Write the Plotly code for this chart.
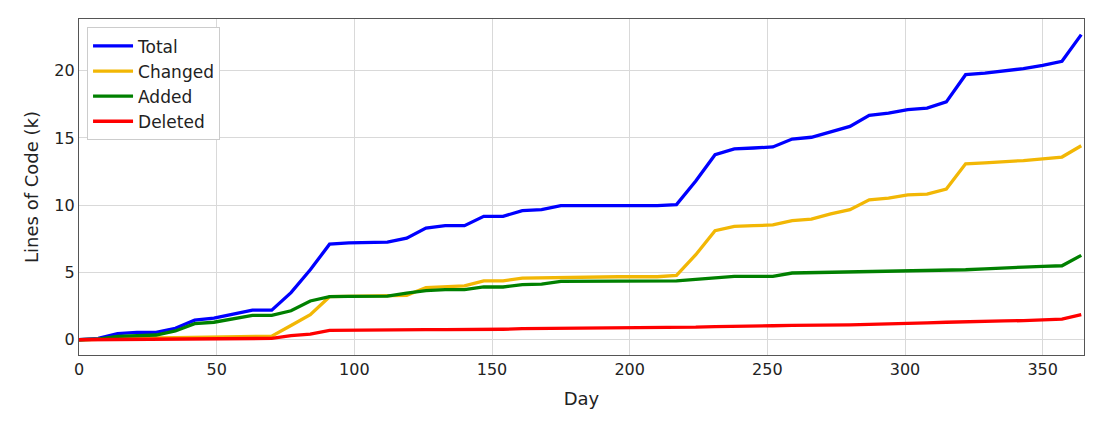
import plotly.graph_objects as go

days = list(range(0, 365, 7))

total = [0, 0.1, 0.45, 0.55, 0.55, 0.85, 1.45, 1.6, 1.9, 2.2, 2.2, 3.5, 5.2, 7.1,
         7.2, 7.25, 7.25, 7.55, 8.3, 8.48, 8.48, 9.17, 9.17, 9.6, 9.67, 9.97,
         9.97, 9.97, 9.97, 9.97, 9.97, 10.04, 11.8, 13.75, 14.18, 14.25, 14.33,
         14.92, 15.05, 15.45, 15.86, 16.68, 16.85, 17.1, 17.22, 17.68, 19.7,
         19.82, 20.0, 20.15, 20.4, 20.7, 22.68]
changed = [0, 0.05, 0.1, 0.12, 0.14, 0.16, 0.18, 0.2, 0.22, 0.24, 0.27, 1.06,
           1.86, 3.2, 3.22, 3.24, 3.24, 3.3, 3.88, 3.95, 4.0, 4.38, 4.38, 4.58,
           4.6, 4.68, 4.68, 4.68, 4.68, 4.68, 4.68, 4.78, 6.32, 8.1, 8.43, 8.48,
           8.53, 8.85, 8.97, 9.35, 9.67, 10.4, 10.53, 10.76, 10.83, 11.2, 13.08,
           13.15, 13.22, 13.32, 13.45, 13.58, 14.42]
added = [0, 0.05, 0.25, 0.3, 0.35, 0.65, 1.2, 1.3, 1.55, 1.81, 1.81, 2.15, 2.88,
         3.2, 3.22, 3.24, 3.24, 3.47, 3.65, 3.72, 3.72, 3.92, 3.92, 4.09, 4.14,
         4.34, 4.34, 4.34, 4.34, 4.34, 4.34, 4.38, 4.48, 4.6, 4.71, 4.71, 4.71,
         4.96, 4.98, 5.0, 5.02, 5.05, 5.06, 5.1, 5.12, 5.15, 5.2, 5.26, 5.35,
         5.4, 5.45, 5.5, 6.27]
deleted = [0, 0.01, 0.02, 0.03, 0.04, 0.05, 0.05, 0.06, 0.07, 0.08, 0.1, 0.3,
           0.42, 0.7, 0.72, 0.72, 0.72, 0.73, 0.75, 0.75, 0.75, 0.78, 0.78, 0.82,
           0.83, 0.85, 0.85, 0.85, 0.85, 0.85, 0.85, 0.87, 0.93, 0.98, 1.02, 1.03,
           1.04, 1.06, 1.06, 1.07, 1.1, 1.14, 1.16, 1.22, 1.25, 1.3, 1.35, 1.37,
           1.4, 1.42, 1.45, 1.53, 1.86]

series = [
    ("Total", total, "#0000ff"),
    ("Changed", changed, "#f2b705"),
    ("Added", added, "#008000"),
    ("Deleted", deleted, "#ff0000"),
]

fig = go.Figure()
for name, values, color in series:
    fig.add_trace(go.Scatter(x=days, y=values, mode="lines", name=name,
                             line=dict(color=color, width=3.3)))

axis_style = dict(
    showgrid=True, gridcolor="#d9d9d9", gridwidth=1,
    showline=True, linecolor="#555555", linewidth=1.3, mirror=True,
    zeroline=False, ticks="", tickfont=dict(size=16, color="#222222"),
    title_font=dict(size=18, color="#222222"),
)

# page body adds an 8px offset, so margins are trimmed by that amount
fig.update_layout(
    width=1104, height=430,
    margin=dict(l=71, r=28, t=11, b=83),
    paper_bgcolor="white", plot_bgcolor="white",
    font=dict(family="DejaVu Sans", color="#222222"),
    xaxis=dict(range=[0, 365], dtick=50, title_text="Day", title_standoff=14, **axis_style),
    yaxis=dict(range=[-1.135, 23.84], dtick=5, title_text="Lines of Code (k)", title_standoff=10, **axis_style),
    legend=dict(x=0.008, y=0.975, xanchor="left", yanchor="top",
                bgcolor="white", bordercolor="#cccccc", borderwidth=1,
                font=dict(size=17, color="#222222"), tracegroupgap=0,
                itemwidth=40),
    showlegend=True,
)

fig.write_html("out.html")
